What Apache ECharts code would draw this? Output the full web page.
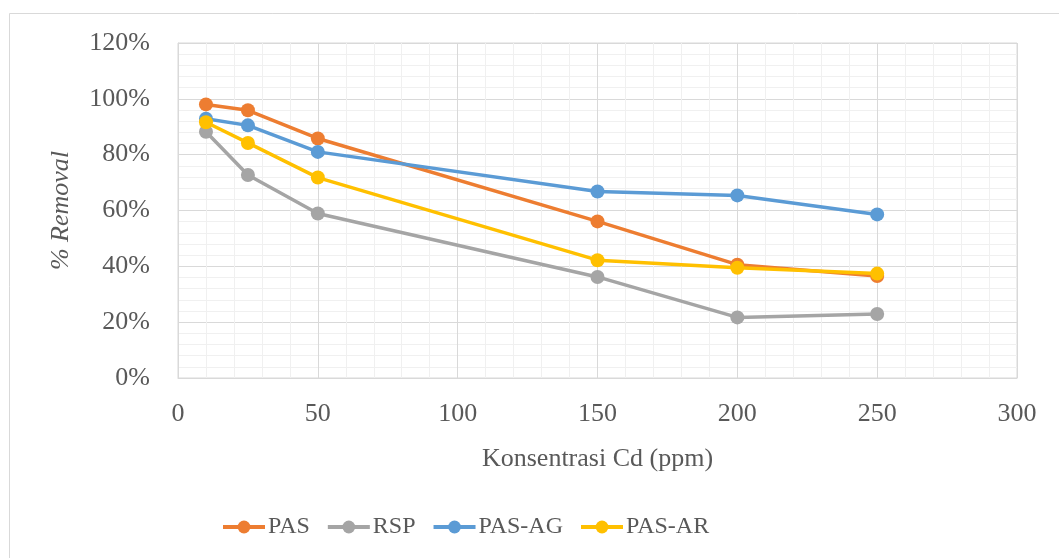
<!DOCTYPE html>
<html>
<head>
<meta charset="utf-8">
<script src="https://cdn.jsdelivr.net/npm/echarts@6/dist/echarts.min.js"></script>
<style>
html,body{margin:0;padding:0;background:#fff;}
#chart{width:1059px;height:558px;}
</style>
</head>
<body>
<div id="chart"></div>
<script>
var xValues = [10, 25, 50, 150, 200, 250];
var seriesNames = ['PAS', 'RSP', 'PAS-AG', 'PAS-AR'];
var pas   = [98.0, 95.9, 85.8, 56.1, 40.6, 36.5];
var rsp   = [88.2, 72.7, 58.9, 36.2, 21.7, 22.9];
var pasAG = [92.9, 90.5, 81.0, 66.8, 65.4, 58.6];
var pasAR = [91.6, 84.2, 71.8, 42.2, 39.5, 37.4];
var colors = ['#ED7D31', '#A5A5A5', '#5B9BD5', '#FFC000'];
var values = [pas, rsp, pasAG, pasAR];

var font = '"Liberation Serif", "Times New Roman", serif';
var txt = '#595959';

function pairs(arr) {
  return xValues.map(function (x, i) { return [x, arr[i]]; });
}

var chart = echarts.init(document.getElementById('chart'), null, {renderer: 'canvas'});
chart.setOption({
  animation: false,
  backgroundColor: '#fff',
  textStyle: {fontFamily: font, color: txt},
  graphic: [{
    type: 'rect',
    shape: {x: 9.5, y: 13.5, width: 1060, height: 560},
    style: {fill: 'none', stroke: '#d9d9d9', lineWidth: 1},
    silent: true,
    z: -1
  }],
  grid: {
    left: 178, right: 42, top: 43, bottom: 180,
    show: true, borderColor: '#d9d9d9', borderWidth: 1
  },
  legend: {
    bottom: 14,
    left: 216,
    itemWidth: 42,
    itemHeight: 16,
    itemGap: 16,
    lineStyle: {width: 4},
    textStyle: {fontFamily: font, fontSize: 24, color: txt, padding: [0, 0, 0, -2]},
    data: seriesNames
  },
  xAxis: {
    type: 'value',
    min: 0, max: 300, interval: 50,
    name: 'Konsentrasi Cd (ppm)',
    nameLocation: 'middle',
    nameGap: 68,
    nameTextStyle: {fontFamily: font, fontSize: 26, color: txt},
    axisLine: {show: true, lineStyle: {color: '#d9d9d9'}},
    axisTick: {show: false},
    axisLabel: {fontFamily: font, fontSize: 26, color: txt, margin: 23},
    splitLine: {show: true, lineStyle: {color: '#d9d9d9', width: 1}},
    minorTick: {show: false, splitNumber: 5},
    minorSplitLine: {show: true, lineStyle: {color: '#f0f0f0', width: 1}}
  },
  yAxis: {
    type: 'value',
    min: 0, max: 120, interval: 20,
    name: '% Removal',
    nameLocation: 'middle',
    nameGap: 104,
    nameTextStyle: {fontFamily: font, fontSize: 26, color: txt, fontStyle: 'italic'},
    axisLine: {show: true, lineStyle: {color: '#d9d9d9'}},
    axisTick: {show: false},
    axisLabel: {fontFamily: font, fontSize: 26, color: txt, margin: 28, formatter: '{value}%'},
    splitLine: {show: true, lineStyle: {color: '#d9d9d9', width: 1}},
    minorTick: {show: false, splitNumber: 5},
    minorSplitLine: {show: true, lineStyle: {color: '#f0f0f0', width: 1}}
  },
  series: seriesNames.map(function (n, i) {
    return {
      name: n,
      type: 'line',
      data: pairs(values[i]),
      symbol: 'circle',
      symbolSize: 14,
      color: colors[i],
      lineStyle: {width: 3.5, color: colors[i]},
      itemStyle: {color: colors[i]},
      z: 2 + i
    };
  })
});
</script>
</body>
</html>
